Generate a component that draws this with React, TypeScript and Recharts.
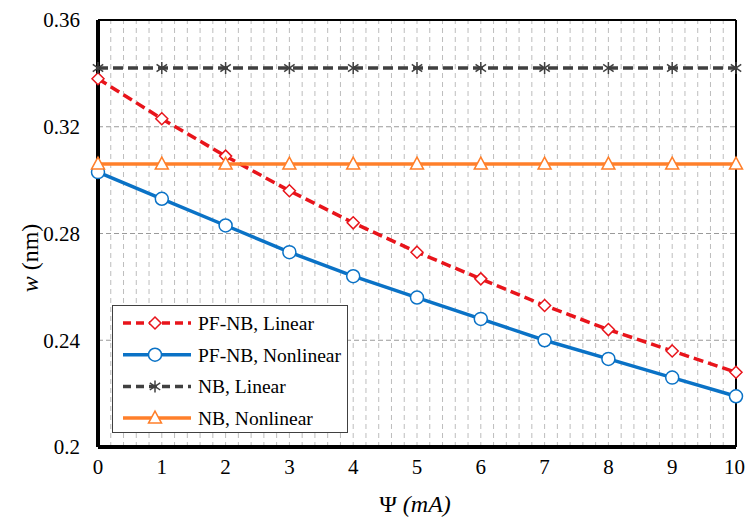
import { LineChart, Line, XAxis, YAxis, CartesianGrid, ReferenceLine, Label } from "recharts";

// x values (Psi, mA)
const psi = [0, 1, 2, 3, 4, 5, 6, 7, 8, 9, 10];
const pfnbLinear = [0.338, 0.323, 0.309, 0.296, 0.284, 0.273, 0.263, 0.253, 0.244, 0.236, 0.228];
const pfnbNonlinear = [0.303, 0.293, 0.283, 0.273, 0.264, 0.256, 0.248, 0.24, 0.233, 0.226, 0.219];
const nbLinear = [0.342, 0.342, 0.342, 0.342, 0.342, 0.342, 0.342, 0.342, 0.342, 0.342, 0.342];
const nbNonlinear = [0.306, 0.306, 0.306, 0.306, 0.306, 0.306, 0.306, 0.306, 0.306, 0.306, 0.306];

const xTicks = [0, 1, 2, 3, 4, 5, 6, 7, 8, 9, 10];
const yTicks = [0.2, 0.24, 0.28, 0.32, 0.36];
// minor vertical grid every 0.2
const minorX = Array.from({ length: 51 }, (_, i) => +(i * 0.2).toFixed(1));

const data = psi.map((x, i) => ({
  x,
  pfLin: pfnbLinear[i],
  pfNon: pfnbNonlinear[i],
  nbLin: nbLinear[i],
  nbNon: nbNonlinear[i],
}));

const FONT = "'Liberation Serif', 'Times New Roman', serif";
const RED = "#e8141b";
const BLUE = "#0a72c6";
const GRAY = "#404040";
const ORANGE = "#ff7f2a";

function Diamond({ cx, cy, s = 6 }: any) {
  return (
    <path
      d={`M${cx},${cy - s}L${cx + s},${cy}L${cx},${cy + s}L${cx - s},${cy}Z`}
      fill="#fff"
      stroke={RED}
      strokeWidth={1.5}
    />
  );
}

function Circ({ cx, cy }: any) {
  return <circle cx={cx} cy={cy} r={6.5} fill="#fff" stroke={BLUE} strokeWidth={1.5} />;
}

function Star({ cx, cy, s = 6 }: any) {
  return (
    <g stroke={GRAY} strokeWidth={1.5}>
      <line x1={cx} y1={cy - s} x2={cx} y2={cy + s} />
      <line x1={cx - s * 0.87} y1={cy - s * 0.6} x2={cx + s * 0.87} y2={cy + s * 0.6} />
      <line x1={cx - s * 0.87} y1={cy + s * 0.6} x2={cx + s * 0.87} y2={cy - s * 0.6} />
    </g>
  );
}

function Tri({ cx, cy }: any) {
  return (
    <path
      d={`M${cx},${cy - 7}L${cx + 6.5},${cy + 5}L${cx - 6.5},${cy + 5}Z`}
      fill="#fff"
      stroke={ORANGE}
      strokeWidth={1.5}
    />
  );
}

const legendItems = [
  { name: "PF-NB, Linear", color: RED, dash: "8 5", Mark: Diamond },
  { name: "PF-NB, Nonlinear", color: BLUE, dash: undefined, Mark: Circ },
  { name: "NB, Linear", color: GRAY, dash: "8 5", Mark: Star },
  { name: "NB, Nonlinear", color: ORANGE, dash: undefined, Mark: Tri },
];

function LegendBox() {
  return (
    <div
      style={{
        position: "absolute",
        left: 112,
        top: 305,
        width: 236,
        height: 128,
        border: "1.5px solid #404040",
        background: "#fff",
        boxSizing: "border-box",
      }}
    >
      <svg width={233} height={125} style={{ display: "block" }}>
        {legendItems.map((it, i) => {
          const y = 17 + i * 31.7;
          return (
            <g key={it.name}>
              <line x1={10} y1={y} x2={78} y2={y} stroke={it.color} strokeWidth={3.5} strokeDasharray={it.dash} />
              <it.Mark cx={42} cy={y} />
              <text x={85} y={y + 7} fontFamily={FONT} fontSize={19.5} fill="#000">
                {it.name}
              </text>
            </g>
          );
        })}
      </svg>
    </div>
  );
}

export default function App() {
  return (
    <div style={{ position: "absolute", left: 0, top: 0, width: 745, height: 517, background: "#fff" }}>
      <LineChart width={745} height={517} data={data} margin={{ top: 20, right: 9, left: 0, bottom: 0 }}>
        <CartesianGrid vertical={false} stroke="#9a9a9a" strokeDasharray="5 3" strokeWidth={1} />
        {minorX.map((v) => (
          <ReferenceLine key={v} x={v} stroke="#bdbdbd" strokeDasharray="5 4" strokeWidth={1} />
        ))}
        <XAxis
          dataKey="x"
          type="number"
          domain={[0, 10]}
          ticks={xTicks}
          height={70}
          tickLine={false}
          tickSize={0}
          tickMargin={12}
          axisLine={{ stroke: "#000", strokeWidth: 4 }}
          tick={{ fill: "#000", fontSize: 21, fontFamily: FONT }}
        >
          <Label
            content={() => (
              <text x={415} y={512} textAnchor="middle" fontFamily={FONT} fontSize={24} fill="#000">
                Ψ <tspan fontStyle="italic">(mA)</tspan>
              </text>
            )}
          />
        </XAxis>
        <YAxis
          type="number"
          domain={[0.2, 0.36]}
          ticks={yTicks}
          width={98}
          tickLine={false}
          tickSize={0}
          tickMargin={18}
          axisLine={{ stroke: "#000", strokeWidth: 4 }}
          tick={{ fill: "#000", fontSize: 21, fontFamily: FONT }}
        >
          <Label
            content={() => (
              <text
                x={38}
                y={258}
                transform="rotate(-90 38 258)"
                textAnchor="middle"
                fontFamily={FONT}
                fontSize={24}
                fill="#000"
              >
                <tspan fontStyle="italic">w</tspan> (nm)
              </text>
            )}
          />
        </YAxis>
        <ReferenceLine y={0.36} stroke="#000" strokeWidth={2} />
        <ReferenceLine x={10} stroke="#000" strokeWidth={2} />
        <Line
          dataKey="pfLin"
          stroke={RED}
          strokeWidth={3.5}
          strokeDasharray="10 5"
          dot={(p: any) => <Diamond key={p.index} cx={p.cx} cy={p.cy} />}
          isAnimationActive={false}
        />
        <Line
          dataKey="pfNon"
          stroke={BLUE}
          strokeWidth={3.5}
          dot={(p: any) => <Circ key={p.index} cx={p.cx} cy={p.cy} />}
          isAnimationActive={false}
        />
        <Line
          dataKey="nbLin"
          stroke={GRAY}
          strokeWidth={3.5}
          strokeDasharray="10 5"
          dot={(p: any) => <Star key={p.index} cx={p.cx} cy={p.cy} />}
          isAnimationActive={false}
        />
        <Line
          dataKey="nbNon"
          stroke={ORANGE}
          strokeWidth={3.5}
          dot={(p: any) => <Tri key={p.index} cx={p.cx} cy={p.cy} />}
          isAnimationActive={false}
        />
      </LineChart>
      <LegendBox />
    </div>
  );
}
